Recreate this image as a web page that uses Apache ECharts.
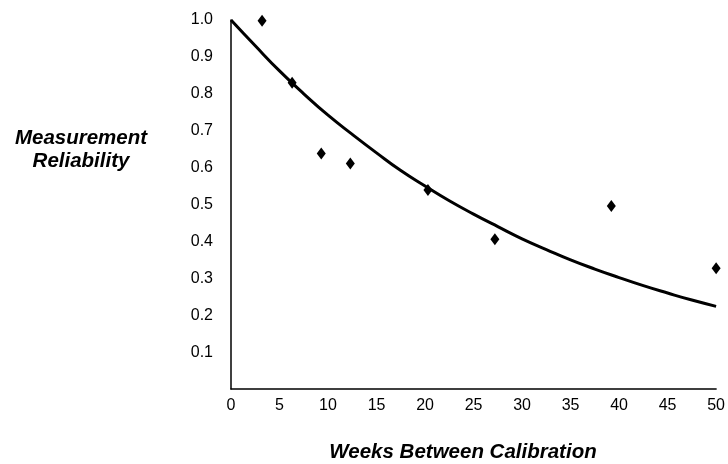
<!DOCTYPE html>
<html>
<head>
<meta charset="utf-8">
<title>Measurement Reliability</title>
<script src="https://cdn.jsdelivr.net/npm/echarts@6/dist/echarts.min.js"></script>
<style>
  html, body { margin: 0; padding: 0; background: #fff; }
  #chart { width: 728px; height: 464px; }
</style>
</head>
<body>
<div id="chart"></div>
<script>
// observed points: weeks between calibration and measured reliability
const obsWeeks = [3.2, 6.3, 9.3, 12.3, 20.3, 27.2, 39.2, 50];
const obsReliability = [0.998, 0.83, 0.638, 0.611, 0.539, 0.406, 0.496, 0.327];

// fitted curve, every 2.5 weeks
const fitWeeks = [0, 2.5, 5, 7.5, 10, 12.5, 15, 17.5, 20, 22.5, 25, 27.5, 30, 32.5, 35, 37.5, 40, 42.5, 45, 47.5, 50];
const fitReliability = [1.0, 0.93, 0.862, 0.8, 0.742, 0.69, 0.64, 0.592, 0.55, 0.51, 0.474, 0.44, 0.407, 0.378, 0.35, 0.325, 0.302, 0.28, 0.26, 0.241, 0.224];

const font = 'Liberation Sans, Arial, sans-serif';

let chart = echarts.init(document.getElementById('chart'));

let option = {
  animation: false,
  backgroundColor: '#fff',
  grid: { left: 231, right: 8, top: 20, bottom: 75 },
  xAxis: {
    type: 'value',
    min: 0,
    max: 50,
    interval: 5,
    axisLine: { show: true, lineStyle: { color: '#000', width: 1.5 } },
    axisTick: { show: false },
    splitLine: { show: false },
    axisLabel: { color: '#000', fontSize: 16, fontFamily: font, margin: 9 }
  },
  yAxis: {
    type: 'value',
    min: 0,
    max: 1,
    interval: 0.1,
    axisLine: { show: true, lineStyle: { color: '#000', width: 1.5 } },
    axisTick: { show: false },
    splitLine: { show: false },
    axisLabel: {
      color: '#000', fontSize: 16, fontFamily: font, margin: 18,
      formatter: v => (v === 0 ? '' : v.toFixed(1))
    }
  },
  graphic: [
    {
      type: 'text', x: 463, y: 452,
      style: {
        text: 'Weeks Between Calibration', fill: '#000',
        align: 'center', verticalAlign: 'middle',
        font: 'italic bold 20.5px ' + font
      }
    },
    {
      type: 'text', x: 81, y: 150,
      style: {
        text: 'Measurement\nReliability', fill: '#000',
        align: 'center', verticalAlign: 'middle',
        font: 'italic bold 20.5px ' + font, lineHeight: 23
      }
    }
  ],
  series: [
    {
      name: 'fit',
      type: 'line',
      data: fitWeeks.map((w, i) => [w, fitReliability[i]]),
      smooth: true,
      showSymbol: false,
      lineStyle: { color: '#000', width: 3 },
      z: 2
    },
    {
      name: 'observed',
      type: 'scatter',
      data: obsWeeks.map((w, i) => [w, obsReliability[i]]),
      symbol: 'diamond',
      symbolSize: [9, 12],
      itemStyle: { color: '#000', opacity: 1 },
      z: 3
    }
  ]
};

chart.setOption(option);
</script>
</body>
</html>
